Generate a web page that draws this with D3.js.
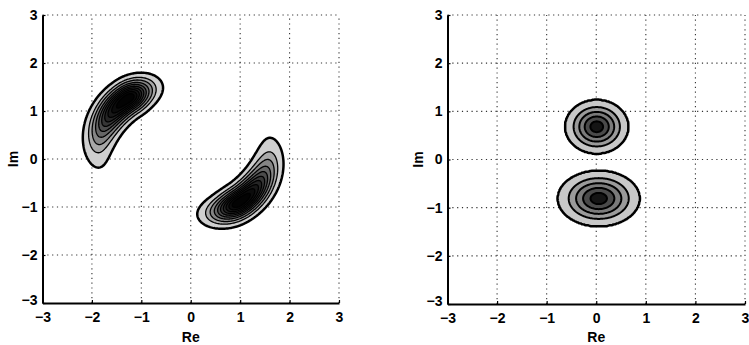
<!DOCTYPE html>
<html><head><meta charset="utf-8">
<script src="https://cdn.jsdelivr.net/npm/d3@7"></script>
<style>body{margin:0;background:#fff}svg{display:block}</style>
</head><body>
<svg id="c" width="749" height="345"></svg>
<script>
// ---- data ----
const xTicks = [-3, -2, -1, 0, 1, 2, 3];
const yTicks = [-3, -2, -1, 0, 1, 2, 3];
const xLabel = "Re";
const yLabel = "Im";

// left panel: two banana-shaped densities (arc around a centre)
const bananaCx = [-0.5, 0.2];
const bananaCy = [0.12, 0.26];
const bananaR = [1.375, 1.4];
const bananaWidth = [0.178, 0.172];
const bananaPeakDeg = [124, -56];
const bananaSpreadLowDeg = [12.4, 14.5];
const bananaSpreadHighDeg = [27, 25];
const bananaLevels = [0.04, 0.12, 0.2, 0.3, 0.4, 0.5, 0.6, 0.7, 0.8, 0.9];

// right panel: two elliptical densities
const ellipseCx = [0.01, 0.05];
const ellipseCy = [0.68, -0.81];
const ellipseRx = [0.64, 0.83];
const ellipseRy = [0.56, 0.58];
const ellipseLevels = [0.005, 0.27, 0.45, 0.62, 0.8];

// ---- drawing ----
const svg = d3.select("#c");
const N = 300;
const FONT = "'Liberation Sans', Arial, sans-serif";
const panels = [
  {x0: 42.5, x1: 339, y0: 15, y1: 303, kind: "banana"},
  {x0: 447.5, x1: 745, y0: 15, y1: 304, kind: "ellipse"}
];

function bananaField(x, y) {
  let v = 0;
  for (let k = 0; k < bananaCx.length; k++) {
    const dx = x - bananaCx[k], dy = y - bananaCy[k];
    const d = Math.hypot(dx, dy);
    let th = Math.atan2(dy, dx) * 180 / Math.PI - bananaPeakDeg[k];
    while (th > 180) th -= 360;
    while (th < -180) th += 360;
    const s = th < 0 ? bananaSpreadLowDeg[k] : bananaSpreadHighDeg[k];
    const u = (d - bananaR[k]) / bananaWidth[k];
    const w = th / s;
    v = Math.max(v, Math.exp(-(u * u + w * w) / 2));
  }
  return v;
}
function ellipseField(x, y) {
  let v = 0;
  for (let k = 0; k < ellipseCx.length; k++) {
    const a = (x - ellipseCx[k]) / ellipseRx[k], b = (y - ellipseCy[k]) / ellipseRy[k];
    v = Math.max(v, 1 - Math.hypot(a, b));
  }
  return v;
}

panels.forEach(p => {
  const xs = d3.scaleLinear().domain([-3, 3]).range([p.x0, p.x1]);
  const ys = d3.scaleLinear().domain([-3, 3]).range([p.y1, p.y0]);
  const g = svg.append("g");

  // grid (dotted)
  g.selectAll("line.gx").data(xTicks.filter(t => t > -3)).enter().append("line")
    .attr("x1", d => xs(d)).attr("x2", d => xs(d)).attr("y1", ys(-3)).attr("y2", ys(3))
    .attr("stroke", "#333").attr("stroke-width", 1.1).attr("stroke-dasharray", "1.2,3.6");
  g.selectAll("line.gy").data(yTicks.filter(t => t > -3)).enter().append("line")
    .attr("y1", d => ys(d)).attr("y2", d => ys(d)).attr("x1", xs(-3)).attr("x2", xs(3))
    .attr("stroke", "#333").attr("stroke-width", 1.1).attr("stroke-dasharray", "1.2,3.6");

  // density grid -> contours
  const field = p.kind === "banana" ? bananaField : ellipseField;
  const levels = p.kind === "banana" ? bananaLevels : ellipseLevels;
  const vals = new Float64Array(N * N);
  for (let j = 0; j < N; j++) for (let i = 0; i < N; i++) {
    vals[i + j * N] = field(-3 + 6 * (i + 0.5) / N, 3 - 6 * (j + 0.5) / N);
  }
  const conts = d3.contours().size([N, N]).thresholds(levels)(vals);
  const proj = d3.geoTransform({point: function(x, y) {
    this.stream.point(xs(-3 + 6 * x / N), ys(3 - 6 * y / N));
  }});
  const path = d3.geoPath(proj);
  const fillsB = ["#cfcfcf", "#a8a8a8", "#858585", "#666", "#4c4c4c", "#363636", "#252525", "#181818", "#0c0c0c", "#030303"];
  const fillsE = ["#c8c8c8", "#9a9a9a", "#7a7a7a", "#4a4a4a", "#151515"];
  const fills = p.kind === "banana" ? fillsB : fillsE;
  g.selectAll("path.c").data(conts).enter().append("path")
    .attr("d", path)
    .attr("fill", (d, i) => fills[i])
    .attr("stroke", "#000")
    .attr("stroke-linejoin", "round")
    .attr("stroke-width", (d, i) => i === 0 ? 2.5 : (p.kind === "banana" ? 1.3 : 2));

  // axes (left and bottom solid)
  const fmt = d => d < 0 ? "\u2212" + Math.abs(d) : d;
  const ax = g.append("g").attr("transform", `translate(0,${ys(-3)})`)
    .call(d3.axisBottom(xs).tickValues(xTicks).tickSizeInner(-3).tickSizeOuter(0)
      .tickPadding(9).tickFormat(fmt));
  const ay = g.append("g").attr("transform", `translate(${xs(-3)},0)`)
    .call(d3.axisLeft(ys).tickValues(yTicks).tickSizeInner(-3).tickSizeOuter(0)
      .tickPadding(5).tickFormat(fmt));
  [ax, ay].forEach(a => {
    a.select(".domain").attr("stroke", "#000").attr("stroke-width", 2);
    a.selectAll(".tick line").attr("stroke", "#000").attr("stroke-width", 1.2);
    a.selectAll(".tick text").attr("fill", "#000")
      .style("font-family", FONT).style("font-weight", "bold").style("font-size", "14px");
  });
  ay.selectAll(".tick text").filter(d => d === -3).attr("dy", "0.1em");

  svg.append("text").attr("x", (p.x0 + p.x1) / 2).attr("y", 342)
    .attr("text-anchor", "middle")
    .style("font-family", FONT).style("font-weight", "bold").style("font-size", "14px").text(xLabel);
  svg.append("text")
    .attr("transform", `translate(${p.x0 - 29},${(p.y0 + p.y1) / 2}) rotate(-90)`)
    .attr("text-anchor", "middle").attr("dy", "0.35em")
    .style("font-family", FONT).style("font-weight", "bold").style("font-size", "14px").text(yLabel);
});
</script>
</body></html>
